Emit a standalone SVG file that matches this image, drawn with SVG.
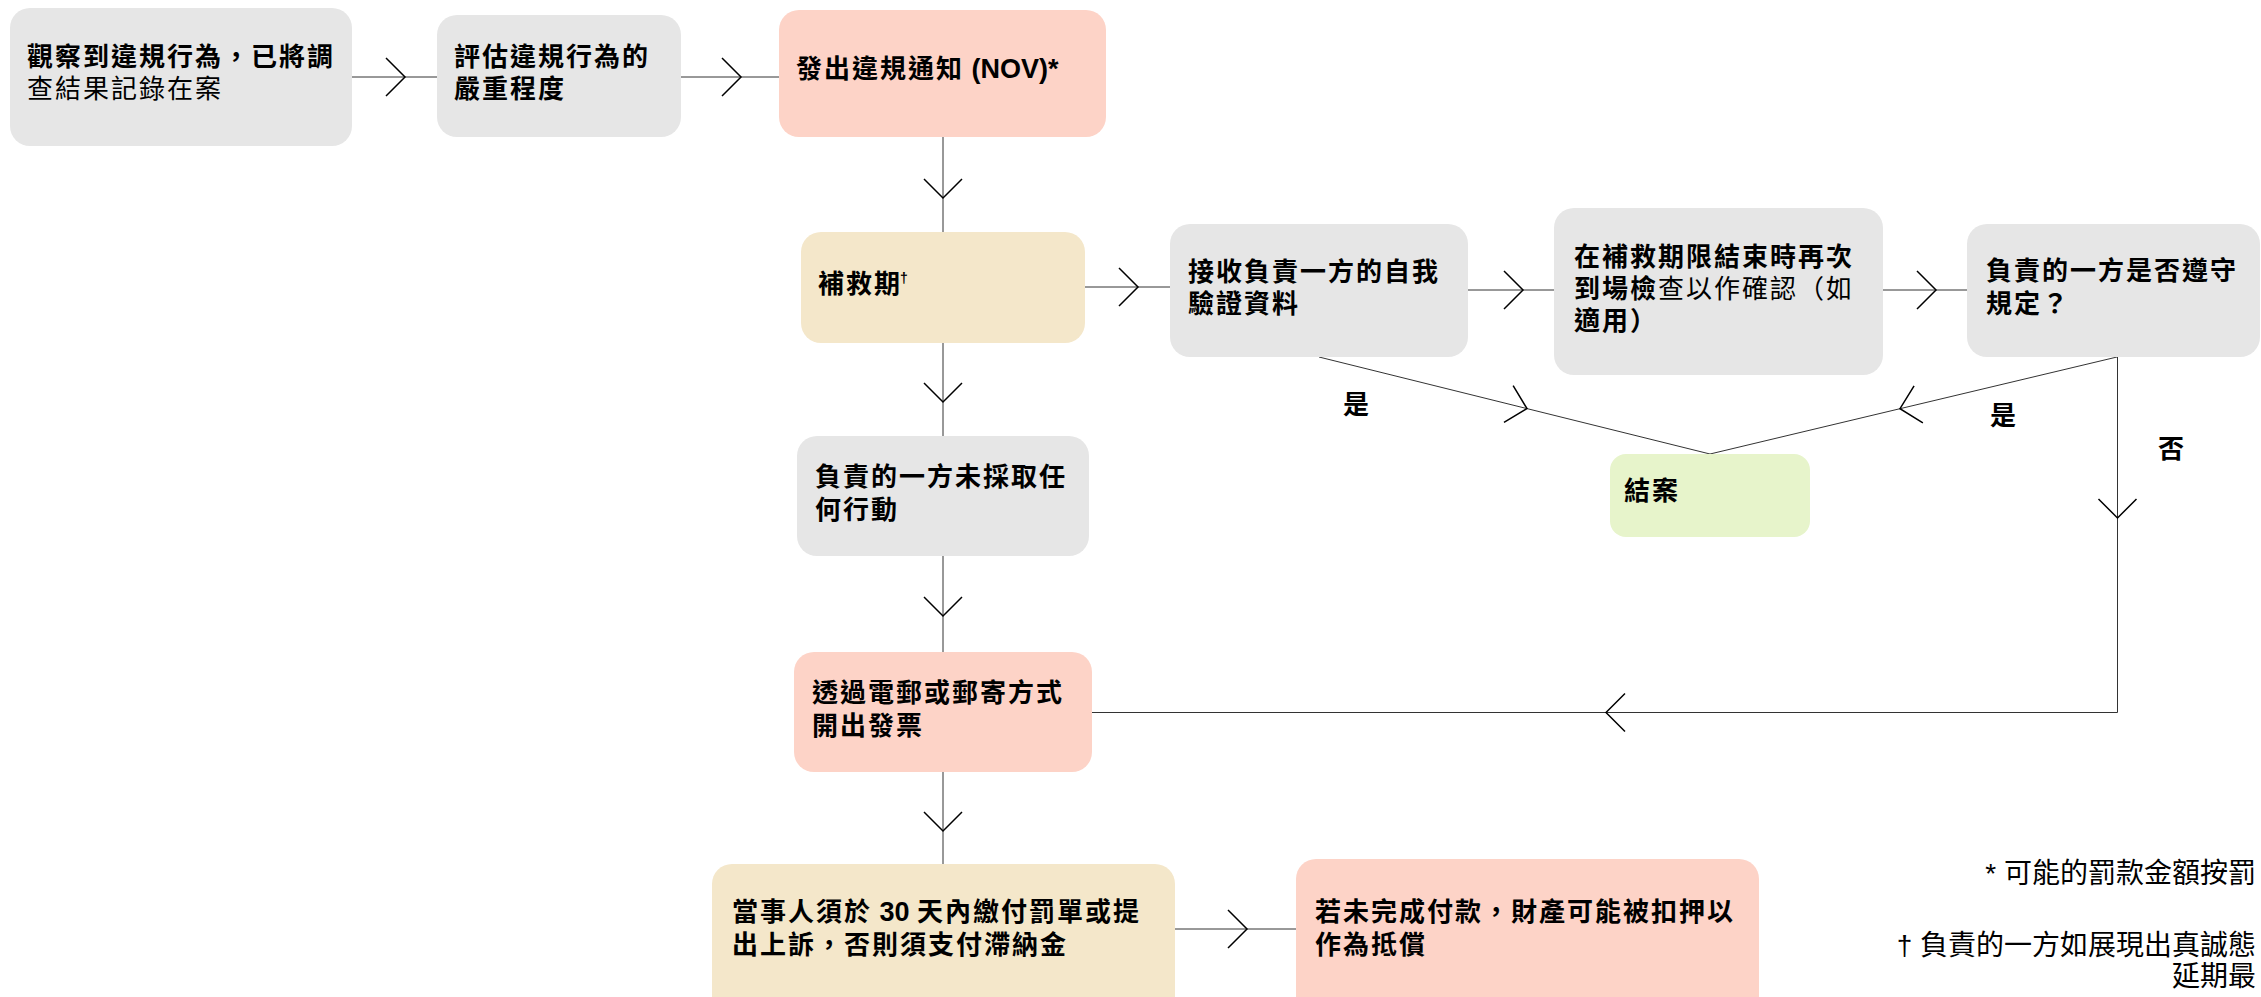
<svg xmlns="http://www.w3.org/2000/svg" width="2261" height="997" viewBox="0 0 2261 997">
<style>
.box{stroke:none}
.gray{fill:#e6e6e6}
.pink{fill:#fdd3c7}
.beige{fill:#f4e7ca}
.green{fill:#e7f4cb}
.t{font-family:"Liberation Sans","Noto Sans CJK TC","Noto Sans CJK SC",sans-serif;font-size:26px;font-weight:700;letter-spacing:2px;fill:#000}
.r{font-weight:400}
.lat{letter-spacing:0;font-size:27px}
.lbl{font-family:"Liberation Sans","Noto Sans CJK TC","Noto Sans CJK SC",sans-serif;font-size:26px;font-weight:700;fill:#000}
.fn{font-family:"Liberation Sans","Noto Sans CJK TC","Noto Sans CJK SC",sans-serif;font-size:28px;font-weight:400;fill:#000;text-anchor:end}
.c{fill:none;stroke:#333;stroke-width:1;marker-mid:url(#chev)}
</style>
<defs>
<marker id="chev" viewBox="-22 -22 24 44" markerWidth="24" markerHeight="44" refX="0" refY="0" orient="auto" markerUnits="userSpaceOnUse">
<path d="M-19,-19 L0,0 L-19,19" fill="none" stroke="#000" stroke-width="1.5"/>
</marker>
</defs>
<g id="connectors">
<path class="c" d="M352,77 L405,77 L437,77"/>
<path class="c" d="M681,77 L741,77 L779,77"/>
<path class="c" d="M943,137 L943,198 L943,232"/>
<path class="c" d="M1085,287 L1138,287 L1170,287"/>
<path class="c" d="M1468,290 L1523,290 L1554,290"/>
<path class="c" d="M1883,290 L1936,290 L1967,290"/>
<path class="c" d="M943,343 L943,402 L943,436"/>
<path class="c" d="M943,556 L943,616 L943,652"/>
<path class="c" d="M943,772 L943,831 L943,864"/>
<path class="c" d="M1175,929 L1247,929 L1296,929"/>
<path class="c" d="M1319,357 L1527,408.6 L1710,454"/>
<path class="c" d="M2117,357 L1900,408.7 L1710,454"/>
<path class="c" d="M2117.5,357 L2117.5,518 L2117.5,712.5"/>
<path class="c" d="M2117.5,712.5 L1606,712.5 L1092,712.5"/>
</g>
<g id="labels">
<text class="lbl" x="1343" y="414">是</text>
<text class="lbl" x="1990" y="425">是</text>
<text class="lbl" x="2158" y="458">否</text>
</g>
<g id="n1">
<rect class="box gray" x="10" y="8" width="342" height="138" rx="20"/>
<text class="t" x="27" y="66">觀察到違規行為，已將調</text>
<text class="t r" x="27" y="98">查結果記錄在案</text>
</g>
<g id="n2">
<rect class="box gray" x="437" y="15" width="244" height="122" rx="20"/>
<text class="t" x="454" y="66">評估違規行為的</text>
<text class="t" x="454" y="98">嚴重程度</text>
</g>
<g id="n3">
<rect class="box pink" x="779" y="10" width="327" height="127" rx="20"/>
<text class="t" x="796" y="78">發出違規通知<tspan class="lat"> (NOV)*</tspan></text>
</g>
<g id="n4">
<rect class="box beige" x="801" y="232" width="284" height="111" rx="20"/>
<text class="t" x="818" y="293">補救期<tspan font-size="14" dx="-2" dy="-10">†</tspan></text>
</g>
<g id="n5">
<rect class="box gray" x="1170" y="224" width="298" height="133" rx="20"/>
<text class="t" x="1188" y="281">接收負責一方的自我</text>
<text class="t" x="1188" y="313">驗證資料</text>
</g>
<g id="n6">
<rect class="box gray" x="1554" y="208" width="329" height="167" rx="20"/>
<text class="t" x="1574" y="266">在補救期限結束時再次</text>
<text class="t" x="1574" y="298">到場檢<tspan class="r">查以作確認（如</tspan></text>
<text class="t" x="1574" y="330">適用）</text>
</g>
<g id="n7">
<rect class="box gray" x="1967" y="224" width="293" height="133" rx="20"/>
<text class="t" x="1986" y="280">負責的一方是否遵守</text>
<text class="t" x="1986" y="313">規定？</text>
</g>
<g id="n8">
<rect class="box green" x="1610" y="454" width="200" height="83" rx="16"/>
<text class="t" x="1624" y="500">結案</text>
</g>
<g id="n9">
<rect class="box gray" x="797" y="436" width="292" height="120" rx="20"/>
<text class="t" x="815" y="486">負責的一方未採取任</text>
<text class="t" x="815" y="519">何行動</text>
</g>
<g id="n10">
<rect class="box pink" x="794" y="652" width="298" height="120" rx="20"/>
<text class="t" x="812" y="702">透過電郵或郵寄方式</text>
<text class="t" x="812" y="735">開出發票</text>
</g>
<g id="n11">
<rect class="box beige" x="712" y="864" width="463" height="160" rx="20"/>
<text class="t" x="732" y="921">當事人須於<tspan class="lat"> 30 </tspan>天內繳付罰單或提</text>
<text class="t" x="732" y="954">出上訴，否則須支付滯納金</text>
</g>
<g id="n12">
<rect class="box pink" x="1296" y="859" width="463" height="165" rx="20"/>
<text class="t" x="1315" y="921">若未完成付款，財產可能被扣押以</text>
<text class="t" x="1315" y="954">作為抵償</text>
</g>
<g id="notes">
<text class="fn" x="2256" y="883">* 可能的罰款金額按罰</text>
<text class="fn" x="2256" y="955">† 負責的一方如展現出真誠態</text>
<text class="fn" x="2256" y="986">延期最</text>
</g>
</svg>
